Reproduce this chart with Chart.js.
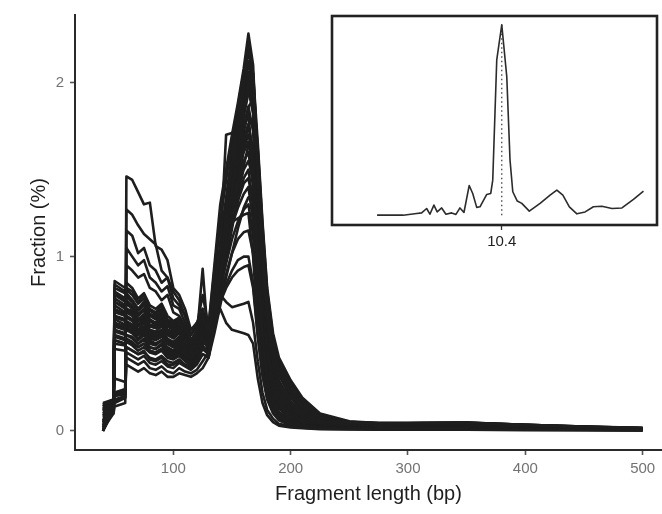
<!DOCTYPE html>
<html>
<head>
<meta charset="utf-8">
<script src="https://cdn.jsdelivr.net/npm/chart.js@4.4.1/dist/chart.umd.min.js"></script>
<style>
  body { margin: 0; background: #ffffff; }
  #wrap { position: relative; width: 662px; height: 514px; }
  #main { position: absolute; left: 0; top: 0; }
  #inset { position: absolute; left: 320px; top: 0; }
</style>
</head>
<body>
<div id="wrap">
  <canvas id="main" width="662" height="514"></canvas>
  <canvas id="inset" width="342" height="260"></canvas>
</div>
<script>
// fragment length (bp) grid shared by all samples
const lengths = [40, 49, 50, 59, 60, 65, 70, 75, 80, 85, 90, 95, 100, 105, 110, 115, 120, 125, 130, 135,
  140, 145, 150, 155, 160, 164, 168, 172, 176, 180, 185, 190, 200, 210, 225, 250, 275, 300, 350, 400, 450, 500]

// samples with a big short-fragment hump (step at ~60 bp)
const sample01 = [0.0, 0.12, 0.16, 0.19, 1.46, 1.44, 1.37, 1.30, 1.31, 1.06, 1.04, 0.98, 0.82, 0.78, 0.70, 0.58, 0.62, 0.66, 0.55, 0.62,
  0.70, 0.62, 0.58, 0.57, 0.56, 0.55, 0.50, 0.30, 0.16, 0.09, 0.05, 0.03, 0.02, 0.015, 0.01, 0.008, 0.006, 0.006, 0.006, 0.004, 0.003, 0.002]
const sample02 = [0.02, 0.14, 0.18, 0.20, 1.27, 1.24, 1.18, 1.13, 1.10, 1.07, 0.92, 0.88, 0.80, 0.75, 0.66, 0.55, 0.62, 0.68, 0.58, 0.70,
  0.78, 0.74, 0.71, 0.72, 0.73, 0.74, 0.62, 0.40, 0.22, 0.12, 0.07, 0.04, 0.025, 0.018, 0.012, 0.01, 0.008, 0.008, 0.008, 0.006, 0.004, 0.003]
const sample03 = [0.01, 0.10, 0.14, 0.16, 1.15, 1.12, 1.02, 1.05, 0.95, 0.92, 0.85, 0.88, 0.76, 0.72, 0.66, 0.55, 0.60, 0.78, 0.60, 0.92,
  1.24, 1.24, 1.20, 1.22, 1.24, 1.25, 1.00, 0.60, 0.34, 0.20, 0.12, 0.07, 0.04, 0.025, 0.018, 0.014, 0.012, 0.012, 0.012, 0.009, 0.006, 0.004]
const sample04 = [0.03, 0.15, 0.20, 0.22, 1.05, 1.00, 0.95, 0.98, 0.88, 0.85, 0.80, 0.83, 0.72, 0.70, 0.62, 0.52, 0.58, 0.70, 0.55, 0.80,
  1.05, 1.70, 1.71, 1.75, 1.80, 1.82, 1.50, 0.95, 0.55, 0.30, 0.17, 0.10, 0.05, 0.03, 0.02, 0.016, 0.014, 0.014, 0.014, 0.010, 0.007, 0.005]
const sample05 = [0.05, 0.16, 0.21, 0.23, 0.95, 0.92, 0.88, 0.90, 0.82, 0.80, 0.75, 0.78, 0.68, 0.66, 0.60, 0.50, 0.55, 0.66, 0.52, 0.72,
  0.92, 1.05, 1.18, 1.28, 1.36, 1.40, 1.20, 0.78, 0.45, 0.26, 0.15, 0.09, 0.045, 0.028, 0.02, 0.016, 0.014, 0.015, 0.015, 0.011, 0.008, 0.005]

// samples with a low short-fragment shoulder
const sample06 = [0.15, 0.17, 0.22, 0.24, 0.42, 0.40, 0.38, 0.40, 0.36, 0.35, 0.37, 0.34, 0.33, 0.36, 0.34, 0.33, 0.35, 0.40, 0.45, 0.70,
  0.95, 1.25, 1.52, 1.78, 2.00, 2.12, 1.95, 1.45, 1.00, 0.68, 0.45, 0.33, 0.21, 0.13, 0.075, 0.046, 0.042, 0.042, 0.045, 0.032, 0.022, 0.015]
const sample07 = [0.12, 0.15, 0.20, 0.21, 0.38, 0.36, 0.34, 0.36, 0.33, 0.32, 0.34, 0.31, 0.31, 0.33, 0.32, 0.31, 0.33, 0.36, 0.42, 0.62,
  0.85, 1.12, 1.40, 1.68, 1.95, 2.22, 2.05, 1.55, 1.08, 0.74, 0.50, 0.36, 0.23, 0.145, 0.082, 0.05, 0.045, 0.044, 0.046, 0.034, 0.024, 0.016]
const sample08 = [0.10, 0.13, 0.17, 0.19, 0.45, 0.43, 0.41, 0.43, 0.39, 0.38, 0.40, 0.37, 0.36, 0.39, 0.37, 0.35, 0.38, 0.44, 0.42, 0.60,
  0.85, 1.10, 1.35, 1.60, 1.85, 2.00, 1.92, 1.50, 1.08, 0.76, 0.50, 0.35, 0.22, 0.14, 0.08, 0.047, 0.044, 0.043, 0.044, 0.032, 0.022, 0.014]
const sample09 = [0.08, 0.12, 0.30, 0.28, 0.48, 0.46, 0.44, 0.46, 0.41, 0.40, 0.42, 0.38, 0.38, 0.40, 0.38, 0.36, 0.40, 0.48, 0.45, 0.65,
  0.90, 1.15, 1.42, 1.66, 1.90, 2.05, 1.90, 1.40, 0.95, 0.62, 0.40, 0.27, 0.15, 0.095, 0.055, 0.036, 0.035, 0.036, 0.038, 0.028, 0.018, 0.012]

// typical samples (step at ~50 bp)
const sample10 = [0.12, 0.15, 0.60, 0.58, 0.60, 0.58, 0.55, 0.57, 0.52, 0.50, 0.52, 0.47, 0.46, 0.48, 0.44, 0.42, 0.46, 0.55, 0.60, 0.95,
  1.30, 1.50, 1.70, 1.88, 2.08, 2.28, 2.10, 1.50, 0.98, 0.62, 0.38, 0.25, 0.13, 0.08, 0.045, 0.032, 0.03, 0.032, 0.035, 0.026, 0.018, 0.011]
const sample11 = [0.0, 0.13, 0.52, 0.50, 0.52, 0.50, 0.48, 0.50, 0.46, 0.45, 0.47, 0.43, 0.42, 0.44, 0.41, 0.39, 0.42, 0.50, 0.50, 0.72,
  0.98, 1.22, 1.48, 1.72, 1.95, 2.12, 2.05, 1.65, 1.20, 0.82, 0.56, 0.42, 0.29, 0.19, 0.10, 0.055, 0.045, 0.045, 0.048, 0.035, 0.025, 0.017]
const sample12 = [0.14, 0.17, 0.84, 0.80, 0.82, 0.80, 0.74, 0.78, 0.70, 0.68, 0.72, 0.64, 0.62, 0.64, 0.58, 0.50, 0.55, 0.68, 0.52, 0.68,
  0.88, 1.02, 1.18, 1.32, 1.45, 1.50, 1.30, 0.85, 0.50, 0.28, 0.16, 0.10, 0.05, 0.03, 0.022, 0.018, 0.016, 0.018, 0.02, 0.015, 0.010, 0.007]
const sample13 = [0.04, 0.14, 0.80, 0.76, 0.79, 0.75, 0.70, 0.74, 0.67, 0.66, 0.69, 0.62, 0.60, 0.62, 0.56, 0.49, 0.54, 0.93, 0.50, 0.70,
  0.92, 1.08, 1.26, 1.42, 1.55, 1.60, 1.40, 0.92, 0.55, 0.30, 0.17, 0.10, 0.05, 0.03, 0.022, 0.018, 0.016, 0.018, 0.02, 0.015, 0.010, 0.007]
const sample14 = [0.13, 0.16, 0.76, 0.72, 0.75, 0.72, 0.67, 0.70, 0.64, 0.62, 0.66, 0.60, 0.58, 0.60, 0.55, 0.48, 0.52, 0.64, 0.50, 0.72,
  0.95, 1.12, 1.30, 1.46, 1.60, 1.66, 1.48, 1.00, 0.60, 0.34, 0.19, 0.11, 0.055, 0.033, 0.024, 0.02, 0.018, 0.02, 0.022, 0.016, 0.011, 0.008]
const sample15 = [0.16, 0.18, 0.72, 0.68, 0.70, 0.69, 0.64, 0.67, 0.61, 0.60, 0.63, 0.57, 0.55, 0.58, 0.52, 0.46, 0.50, 0.62, 0.48, 0.70,
  0.95, 1.15, 1.35, 1.52, 1.68, 1.76, 1.60, 1.10, 0.68, 0.40, 0.22, 0.13, 0.06, 0.036, 0.026, 0.021, 0.02, 0.022, 0.025, 0.018, 0.012, 0.008]
const sample16 = [0.0, 0.12, 0.68, 0.66, 0.68, 0.66, 0.61, 0.64, 0.58, 0.57, 0.60, 0.55, 0.53, 0.56, 0.50, 0.45, 0.49, 0.60, 0.47, 0.68,
  0.92, 1.14, 1.36, 1.56, 1.75, 1.86, 1.72, 1.22, 0.76, 0.46, 0.26, 0.15, 0.07, 0.04, 0.028, 0.022, 0.021, 0.024, 0.027, 0.02, 0.013, 0.009]
const sample17 = [0.11, 0.14, 0.65, 0.63, 0.65, 0.63, 0.58, 0.62, 0.56, 0.55, 0.57, 0.52, 0.50, 0.53, 0.48, 0.44, 0.48, 0.58, 0.48, 0.70,
  0.95, 1.18, 1.42, 1.63, 1.84, 1.96, 1.82, 1.30, 0.84, 0.52, 0.30, 0.18, 0.085, 0.05, 0.032, 0.025, 0.024, 0.027, 0.03, 0.022, 0.015, 0.010]
const sample18 = [0.06, 0.15, 0.62, 0.60, 0.62, 0.60, 0.56, 0.59, 0.54, 0.53, 0.55, 0.50, 0.48, 0.51, 0.46, 0.42, 0.46, 0.56, 0.50, 0.74,
  1.00, 1.25, 1.50, 1.72, 1.94, 2.06, 1.90, 1.36, 0.88, 0.55, 0.33, 0.20, 0.10, 0.06, 0.038, 0.028, 0.026, 0.029, 0.032, 0.024, 0.016, 0.011]
const sample19 = [0.07, 0.10, 0.57, 0.55, 0.58, 0.56, 0.52, 0.55, 0.50, 0.49, 0.52, 0.47, 0.46, 0.49, 0.44, 0.41, 0.45, 0.53, 0.47, 0.66,
  0.88, 1.10, 1.32, 1.52, 1.72, 1.86, 1.90, 1.48, 1.00, 0.66, 0.43, 0.29, 0.17, 0.11, 0.062, 0.04, 0.03, 0.032, 0.036, 0.027, 0.018, 0.012]
const sample20 = [0.14, 0.16, 0.55, 0.53, 0.55, 0.54, 0.50, 0.53, 0.48, 0.47, 0.50, 0.46, 0.45, 0.47, 0.43, 0.40, 0.44, 0.52, 0.52, 0.80,
  1.08, 1.34, 1.60, 1.82, 2.04, 2.18, 2.00, 1.42, 0.92, 0.58, 0.36, 0.23, 0.12, 0.075, 0.042, 0.03, 0.028, 0.03, 0.034, 0.025, 0.017, 0.011]
const sample21 = [0.02, 0.12, 0.52, 0.50, 0.53, 0.51, 0.48, 0.50, 0.46, 0.45, 0.47, 0.44, 0.43, 0.45, 0.41, 0.38, 0.42, 0.49, 0.45, 0.62,
  0.84, 1.04, 1.24, 1.42, 1.62, 1.76, 1.78, 1.50, 1.08, 0.74, 0.48, 0.34, 0.21, 0.13, 0.075, 0.045, 0.038, 0.04, 0.043, 0.032, 0.022, 0.014]
const sample22 = [0.12, 0.14, 0.74, 0.70, 0.73, 0.70, 0.66, 0.69, 0.63, 0.61, 0.64, 0.58, 0.57, 0.59, 0.54, 0.47, 0.52, 0.63, 0.49, 0.64,
  0.82, 0.96, 1.10, 1.20, 1.27, 1.30, 1.12, 0.72, 0.42, 0.24, 0.13, 0.08, 0.04, 0.025, 0.018, 0.015, 0.014, 0.016, 0.018, 0.013, 0.009, 0.006]
const sample23 = [0.15, 0.17, 0.69, 0.66, 0.69, 0.67, 0.63, 0.65, 0.60, 0.59, 0.61, 0.56, 0.55, 0.57, 0.52, 0.46, 0.50, 0.60, 0.46, 0.60,
  0.74, 0.84, 0.92, 0.98, 1.00, 1.00, 0.85, 0.55, 0.32, 0.18, 0.10, 0.06, 0.03, 0.02, 0.015, 0.012, 0.011, 0.012, 0.013, 0.010, 0.007, 0.005]
const sample24 = [0.08, 0.11, 0.64, 0.61, 0.63, 0.61, 0.57, 0.60, 0.55, 0.54, 0.56, 0.51, 0.49, 0.52, 0.47, 0.43, 0.47, 0.57, 0.49, 0.72,
  0.97, 1.20, 1.44, 1.66, 1.88, 2.00, 1.95, 1.42, 0.92, 0.58, 0.35, 0.22, 0.11, 0.065, 0.04, 0.03, 0.027, 0.03, 0.033, 0.024, 0.016, 0.011]
const sample25 = [0.10, 0.13, 0.60, 0.58, 0.61, 0.59, 0.55, 0.58, 0.53, 0.52, 0.54, 0.50, 0.48, 0.50, 0.46, 0.42, 0.46, 0.55, 0.46, 0.66,
  0.88, 1.08, 1.28, 1.46, 1.62, 1.70, 1.58, 1.12, 0.70, 0.42, 0.24, 0.14, 0.065, 0.038, 0.027, 0.022, 0.02, 0.023, 0.026, 0.019, 0.013, 0.009]
const sample26 = [0.09, 0.15, 0.82, 0.79, 0.81, 0.78, 0.73, 0.76, 0.69, 0.67, 0.70, 0.63, 0.61, 0.63, 0.57, 0.49, 0.54, 0.66, 0.50, 0.62,
  0.78, 0.90, 1.02, 1.10, 1.14, 1.15, 1.02, 0.70, 0.44, 0.27, 0.16, 0.10, 0.05, 0.03, 0.02, 0.016, 0.015, 0.017, 0.019, 0.014, 0.009, 0.006]
const sample27 = [0.05, 0.13, 0.78, 0.74, 0.77, 0.74, 0.69, 0.72, 0.66, 0.64, 0.67, 0.61, 0.59, 0.61, 0.56, 0.48, 0.53, 0.65, 0.50, 0.68,
  0.88, 1.06, 1.24, 1.38, 1.50, 1.55, 1.45, 1.10, 0.74, 0.50, 0.33, 0.23, 0.14, 0.088, 0.05, 0.033, 0.028, 0.03, 0.033, 0.024, 0.016, 0.011]
const sample28 = [0.13, 0.16, 0.70, 0.67, 0.70, 0.68, 0.63, 0.66, 0.60, 0.59, 0.62, 0.56, 0.54, 0.57, 0.51, 0.45, 0.49, 0.60, 0.47, 0.66,
  0.86, 1.02, 1.18, 1.32, 1.42, 1.45, 1.30, 0.90, 0.56, 0.34, 0.21, 0.14, 0.08, 0.05, 0.032, 0.024, 0.022, 0.025, 0.028, 0.02, 0.014, 0.009]
const sample29 = [0.01, 0.11, 0.66, 0.64, 0.66, 0.64, 0.60, 0.63, 0.57, 0.56, 0.58, 0.53, 0.51, 0.54, 0.49, 0.44, 0.48, 0.58, 0.52, 0.78,
  1.04, 1.30, 1.55, 1.78, 1.98, 2.10, 2.02, 1.60, 1.14, 0.78, 0.52, 0.39, 0.26, 0.17, 0.092, 0.052, 0.042, 0.043, 0.046, 0.034, 0.023, 0.015]
const sample30 = [0.14, 0.17, 0.61, 0.59, 0.62, 0.60, 0.56, 0.59, 0.54, 0.53, 0.55, 0.50, 0.49, 0.51, 0.46, 0.43, 0.47, 0.56, 0.47, 0.68,
  0.90, 1.12, 1.34, 1.54, 1.72, 1.82, 1.74, 1.32, 0.90, 0.60, 0.40, 0.27, 0.16, 0.10, 0.058, 0.038, 0.033, 0.035, 0.038, 0.028, 0.019, 0.013]
const sample31 = [0.03, 0.12, 0.58, 0.56, 0.59, 0.57, 0.53, 0.56, 0.51, 0.50, 0.52, 0.48, 0.46, 0.49, 0.45, 0.41, 0.45, 0.54, 0.55, 0.88,
  1.20, 1.44, 1.66, 1.86, 2.06, 2.20, 2.02, 1.40, 0.88, 0.54, 0.32, 0.20, 0.10, 0.06, 0.036, 0.026, 0.024, 0.027, 0.03, 0.022, 0.015, 0.010]
const sample32 = [0.11, 0.14, 0.54, 0.52, 0.55, 0.53, 0.50, 0.52, 0.48, 0.47, 0.49, 0.45, 0.44, 0.46, 0.42, 0.39, 0.43, 0.51, 0.48, 0.68,
  0.92, 1.14, 1.38, 1.60, 1.80, 1.94, 1.95, 1.62, 1.18, 0.80, 0.54, 0.40, 0.27, 0.18, 0.095, 0.05, 0.043, 0.044, 0.047, 0.035, 0.024, 0.016]
const sample33 = [0.06, 0.13, 0.50, 0.49, 0.51, 0.49, 0.46, 0.48, 0.45, 0.44, 0.46, 0.42, 0.41, 0.43, 0.40, 0.37, 0.41, 0.47, 0.44, 0.60,
  0.80, 0.98, 1.16, 1.34, 1.52, 1.64, 1.65, 1.38, 1.00, 0.70, 0.46, 0.32, 0.19, 0.12, 0.068, 0.042, 0.036, 0.038, 0.041, 0.03, 0.02, 0.013]
const sample34 = [0.12, 0.16, 0.79, 0.75, 0.78, 0.75, 0.70, 0.73, 0.66, 0.65, 0.68, 0.61, 0.59, 0.61, 0.56, 0.49, 0.53, 0.66, 0.51, 0.74,
  0.98, 1.16, 1.36, 1.52, 1.68, 1.75, 1.60, 1.12, 0.70, 0.42, 0.25, 0.16, 0.09, 0.055, 0.034, 0.025, 0.022, 0.025, 0.028, 0.02, 0.014, 0.009]
const sample35 = [0.0, 0.12, 0.74, 0.71, 0.74, 0.71, 0.67, 0.70, 0.63, 0.62, 0.65, 0.58, 0.56, 0.59, 0.53, 0.47, 0.51, 0.62, 0.50, 0.76,
  1.02, 1.26, 1.50, 1.72, 1.90, 2.00, 1.84, 1.30, 0.82, 0.50, 0.30, 0.19, 0.10, 0.06, 0.037, 0.027, 0.025, 0.028, 0.031, 0.023, 0.016, 0.010]
const sample36 = [0.09, 0.12, 0.47, 0.46, 0.48, 0.46, 0.44, 0.45, 0.42, 0.41, 0.43, 0.40, 0.39, 0.41, 0.38, 0.36, 0.39, 0.44, 0.42, 0.56,
  0.72, 0.88, 1.02, 1.16, 1.28, 1.34, 1.35, 1.20, 0.95, 0.70, 0.50, 0.37, 0.24, 0.16, 0.088, 0.048, 0.04, 0.041, 0.044, 0.033, 0.023, 0.015]
const sample37 = [0.15, 0.18, 0.86, 0.82, 0.85, 0.82, 0.76, 0.79, 0.72, 0.70, 0.73, 0.66, 0.63, 0.65, 0.59, 0.51, 0.56, 0.70, 0.52, 0.62,
  0.74, 0.82, 0.88, 0.92, 0.94, 0.95, 0.82, 0.54, 0.32, 0.19, 0.11, 0.07, 0.035, 0.022, 0.016, 0.013, 0.012, 0.013, 0.014, 0.011, 0.008, 0.005]

const samples = [sample01, sample02, sample03, sample04, sample05, sample06, sample07, sample08, sample09, sample10,
  sample11, sample12, sample13, sample14, sample15, sample16, sample17, sample18, sample19, sample20,
  sample21, sample22, sample23, sample24, sample25, sample26, sample27, sample28, sample29, sample30,
  sample31, sample32, sample33, sample34, sample35, sample36, sample37]

const xTicks = [100, 200, 300, 400, 500]
const yTicks = [0, 1, 2]

// inset: periodicity spectrum (period in bp)
const insetPeriod = [5.42, 6.46, 7.00, 7.20, 7.40, 7.53, 7.69, 7.82, 8.00, 8.17, 8.40, 8.57, 8.73, 8.89, 9.10, 9.24, 9.40, 9.53, 9.80, 9.96,
  10.04, 10.20, 10.40, 10.60, 10.73, 10.84, 11.02, 11.20, 11.50, 11.93, 12.33, 12.60, 12.84, 13.10, 13.40, 13.73, 14.06, 14.40, 14.80, 15.20,
  15.66, 16.06]
const insetPower = [0, 0, 0.009, 0.012, 0.035, 0.005, 0.053, 0.017, 0.038, 0.005, 0.012, 0.004, 0.038, 0.014, 0.156, 0.114, 0.041, 0.044, 0.109, 0.114,
  0.184, 0.816, 1.0, 0.728, 0.289, 0.123, 0.074, 0.062, 0.021, 0.062, 0.105, 0.132, 0.105, 0.044, 0.007, 0.017, 0.044, 0.047, 0.035, 0.038,
  0.083, 0.126]
const insetPeak = 10.4

const ink = '#1e1e1e'
const tickGrey = '#737373'

function pts(xs, ys){
  return ys.map((v, i) => ({x: xs[i], y: v}))
}

const mainSets = samples.map(s => ({
  data: pts(lengths, s),
  borderColor: ink,
  borderWidth: 2.6,
  pointRadius: 0,
  tension: 0,
  borderJoinStyle: 'round',
  fill: false
}))

new Chart(document.getElementById('main'), {
  type: 'line',
  data: { datasets: mainSets },
  options: {
    responsive: false,
    animation: false,
    layout: { padding: { top: 12, right: 0, left: 0, bottom: 0 } },
    plugins: { legend: { display: false }, tooltip: { enabled: false } },
    scales: {
      x: {
        type: 'linear', min: 16.2, max: 516.5,
        afterBuildTicks: s => { s.ticks = xTicks.map(v => ({value: v})) },
        afterFit: s => { s.height = 64 },
        grid: { drawOnChartArea: false, drawTicks: true, tickLength: 5, tickColor: '#555', tickWidth: 1.6 },
        border: { display: true, color: '#2a2a2a', width: 2 },
        ticks: { color: tickGrey, padding: 5, font: { family: 'Liberation Sans', size: 15 }, maxRotation: 0 },
        title: { display: true, text: 'Fragment length (bp)', color: ink,
          font: { family: 'Liberation Sans', size: 20 }, padding: { top: 0, bottom: 8 } }
      },
      y: {
        type: 'linear', min: -0.11, max: 2.387,
        afterBuildTicks: s => { s.ticks = yTicks.map(v => ({value: v})) },
        afterFit: s => { s.width = 75 },
        grid: { drawOnChartArea: false, drawTicks: true, tickLength: 5, tickColor: '#555', tickWidth: 1.6 },
        border: { display: true, color: '#2a2a2a', width: 2 },
        ticks: { color: tickGrey, padding: 6, font: { family: 'Liberation Sans', size: 15 } },
        title: { display: true, text: 'Fraction (%)', color: ink,
          font: { family: 'Liberation Sans', size: 20 }, padding: { top: 27, bottom: 0 } }
      }
    }
  }
})

// box around the inset plot area
const insetBox = {
  id: 'insetBox',
  beforeDatasetsDraw(chart){
    const a = chart.chartArea
    const c = chart.ctx
    c.save()
    c.fillStyle = '#ffffff'
    c.fillRect(a.left, a.top, a.right - a.left, a.bottom - a.top)
    c.restore()
  },
  afterDraw(chart){
    const a = chart.chartArea
    const c = chart.ctx
    c.save()
    c.strokeStyle = '#222'
    c.lineWidth = 2.6
    c.strokeRect(a.left, a.top, a.right - a.left, a.bottom - a.top)
    c.restore()
  }
}

new Chart(document.getElementById('inset'), {
  type: 'line',
  data: {
    datasets: [
      { data: [{x: insetPeak, y: 1.0}, {x: insetPeak, y: -0.016}], borderColor: '#333', borderWidth: 1.2,
        borderDash: [1.5, 3], pointRadius: 0 },
      { data: pts(insetPeriod, insetPower), borderColor: '#2b2b2b', borderWidth: 1.6, pointRadius: 0, tension: 0,
        borderJoinStyle: 'round' }
    ]
  },
  plugins: [insetBox],
  options: {
    responsive: false,
    animation: false,
    layout: { padding: { top: 16, left: 12, right: 5, bottom: 0 } },
    plugins: { legend: { display: false }, tooltip: { enabled: false } },
    scales: {
      x: {
        type: 'linear', min: 3.62, max: 16.6,
        afterBuildTicks: s => { s.ticks = [{value: insetPeak}] },
        afterFit: s => { s.height = 35 },
        grid: { drawOnChartArea: false, drawTicks: true, tickLength: 5, tickColor: '#333', tickWidth: 1.3 },
        border: { display: false },
        ticks: { color: '#222', padding: 3, font: { family: 'Liberation Sans', size: 15 },
          callback: v => v.toFixed(1) }
      },
      y: { display: false, min: -0.0516, max: 1.046 }
    }
  }
})
</script>
</body>
</html>
